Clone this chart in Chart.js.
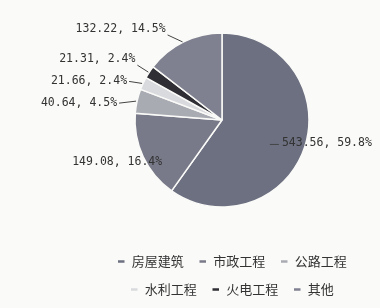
<!DOCTYPE html>
<html>
<head>
<meta charset="utf-8">
<script src="https://cdn.jsdelivr.net/npm/chart.js@4/dist/chart.umd.min.js"></script>
<style>
  html, body { margin: 0; padding: 0; background: #fafaf8; }
  #wrap { width: 380px; height: 308px; }
</style>
</head>
<body>
<div id="wrap"><canvas id="chart"></canvas></div>
<script>
// 各类工程数据（亿元）与占比
const categories = ['房屋建筑', '市政工程', '公路工程', '水利工程', '火电工程', '其他'];
const values = [543.56, 149.08, 40.64, 21.66, 21.31, 132.22];
const shares = ['59.8%', '16.4%', '4.5%', '2.4%', '2.4%', '14.5%'];

const colors = ['#6d7081', '#787a89', '#a9abb3', '#d9dade', '#2e2e34', '#7f8190'];

// label offset from the slice's outer edge (px)
const labelOffsets = [[-23, -3], [19, 5], [-20, 2], [-16, -2], [-14, -13], [-18, -13]];

const sliceLabels = {
  id: 'sliceLabels',
  afterLayout(chart) {
    // legend sits a bit right of the pie in the original
    chart.legend.left += 10;
    chart.legend.right += 10;
  },
  afterDatasetsDraw(chart) {
    const ctx = chart.ctx;
    const meta = chart.getDatasetMeta(0);
    ctx.save();
    ctx.font = '11.5px "DejaVu Sans Mono", monospace';
    ctx.fillStyle = '#333';
    ctx.strokeStyle = '#444';
    ctx.lineWidth = 1;
    ctx.textBaseline = 'middle';
    meta.data.forEach((arc, i) => {
      const p = arc.getProps(['x', 'y', 'startAngle', 'endAngle', 'outerRadius'], true);
      const mid = (p.startAngle + p.endAngle) / 2;
      const ex = p.x + Math.cos(mid) * p.outerRadius;
      const ey = p.y + Math.sin(mid) * p.outerRadius;
      const tx = ex + labelOffsets[i][0];
      const ty = ey + labelOffsets[i][1];
      const txt = values[i].toFixed(2) + ', ' + shares[i];
      const right = Math.cos(mid) > 0;
      ctx.textAlign = right ? 'left' : 'right';
      ctx.fillText(txt, tx, ty);
      ctx.beginPath();
      if (right) {
        ctx.moveTo(tx - 12, ty + 1);
        ctx.lineTo(tx - 3, ty + 1);
      } else if (labelOffsets[i][0] < 0) {
        const ly = labelOffsets[i][1] < -8 ? ty + 6 : ty;
        ctx.moveTo(tx + 2, ly);
        ctx.lineTo(ex - 1, ey);
      }
      ctx.stroke();
    });
    ctx.restore();
  }
};

const chart = new Chart(document.getElementById('chart'), {
  type: 'pie',
  data: {
    labels: categories,
    datasets: [{
      data: values,
      backgroundColor: colors,
      borderColor: '#fafaf8',
      borderWidth: 1.5,
      radius: 87
    }]
  },
  options: {
    responsive: true,
    maintainAspectRatio: false,
    animation: false,
    layout: { padding: { left: 84, right: 20, top: 0, bottom: 2 } },
    plugins: {
      tooltip: { enabled: false },
      legend: {
        position: 'bottom',
        labels: {
          boxWidth: 8,
          boxHeight: 4,
          padding: 15,
          color: '#333',
          font: { family: '"Noto Sans CJK SC", sans-serif', size: 13 }
        }
      }
    }
  },
  plugins: [sliceLabels]
});
</script>
</body>
</html>
